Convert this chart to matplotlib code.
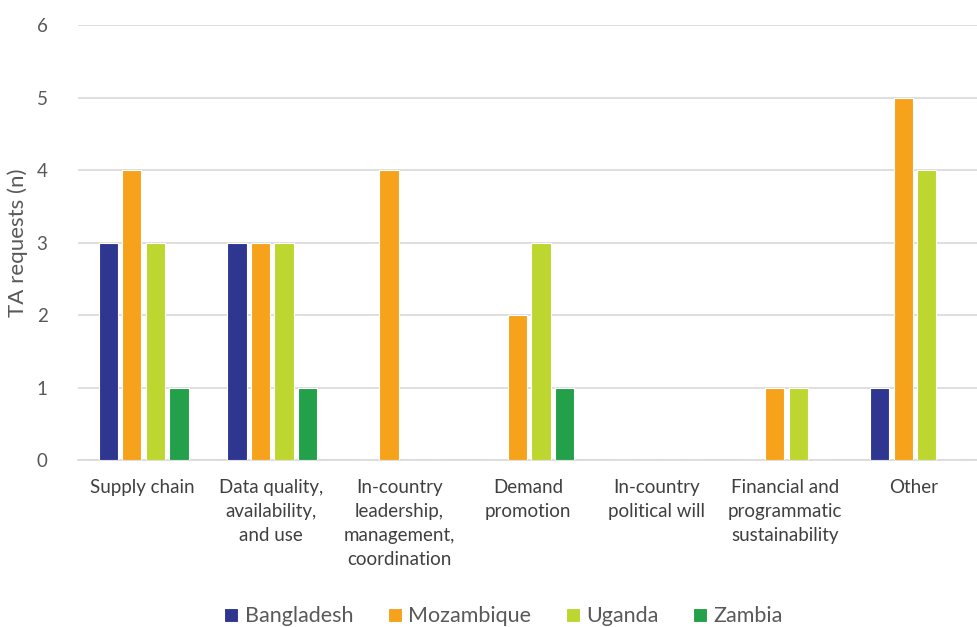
import numpy as np
import matplotlib.pyplot as plt

categories = ['Supply chain', 'Data quality,\navailability,\nand use',
              'In-country\nleadership,\nmanagement,\ncoordination',
              'Demand\npromotion', 'In-country\npolitical will',
              'Financial and\nprogrammatic\nsustainability', 'Other']
countries = ['Bangladesh', 'Mozambique', 'Uganda', 'Zambia']
bangladesh = [3, 3, 0, 0, 0, 0, 1]
mozambique = [4, 3, 4, 2, 0, 1, 5]
uganda = [3, 3, 0, 3, 0, 1, 4]
zambia = [1, 1, 0, 1, 0, 0, 0]
colors = ['#2E3690', '#F7A21B', '#BED630', '#23A04A']

plt.rcParams['font.family'] = ['Lato', 'DejaVu Sans']

fig = plt.figure(figsize=(9.78, 6.27), dpi=100)
ax = fig.add_axes([0.0798, 0.2663, 0.9202, 0.6937])

x = np.arange(len(categories))
step = 0.183
width = 0.15
for i, (name, vals) in enumerate(zip(countries, [bangladesh, mozambique, uganda, zambia])):
    ax.bar(x + (i - 1.5) * step + 0.01, vals, width, color=colors[i], label=name,
           edgecolor='white', linewidth=0.8, zorder=3)

ax.set_xlim(-0.5, len(categories) - 0.5)
ax.set_ylim(0, 6)
ax.set_yticks(range(7))
ax.set_xticks(x)
ax.set_xticklabels(categories, fontsize=13.5, color='#404040', linespacing=1.5)
ax.tick_params(axis='x', length=0, pad=14)
ax.tick_params(axis='y', length=0, labelsize=13.5, labelcolor='#595959', pad=22)
ax.grid(axis='y', color='#D9D9D9', linewidth=1.2, zorder=0)
for s in ['top', 'right', 'left']:
    ax.spines[s].set_visible(False)
ax.spines['bottom'].set_color('#D9D9D9')
ax.spines['bottom'].set_linewidth(1.2)
ax.set_ylabel('TA requests (n)', fontsize=16, color='#595959', labelpad=6)

fig.legend(loc='center', bbox_to_anchor=(0.515, 0.017), ncol=4, frameon=False,
           fontsize=15.5, handlelength=0.65, handleheight=0.65, columnspacing=1.6,
           handletextpad=0.3, labelcolor='#595959')

fig.savefig('out.png', dpi=100)
